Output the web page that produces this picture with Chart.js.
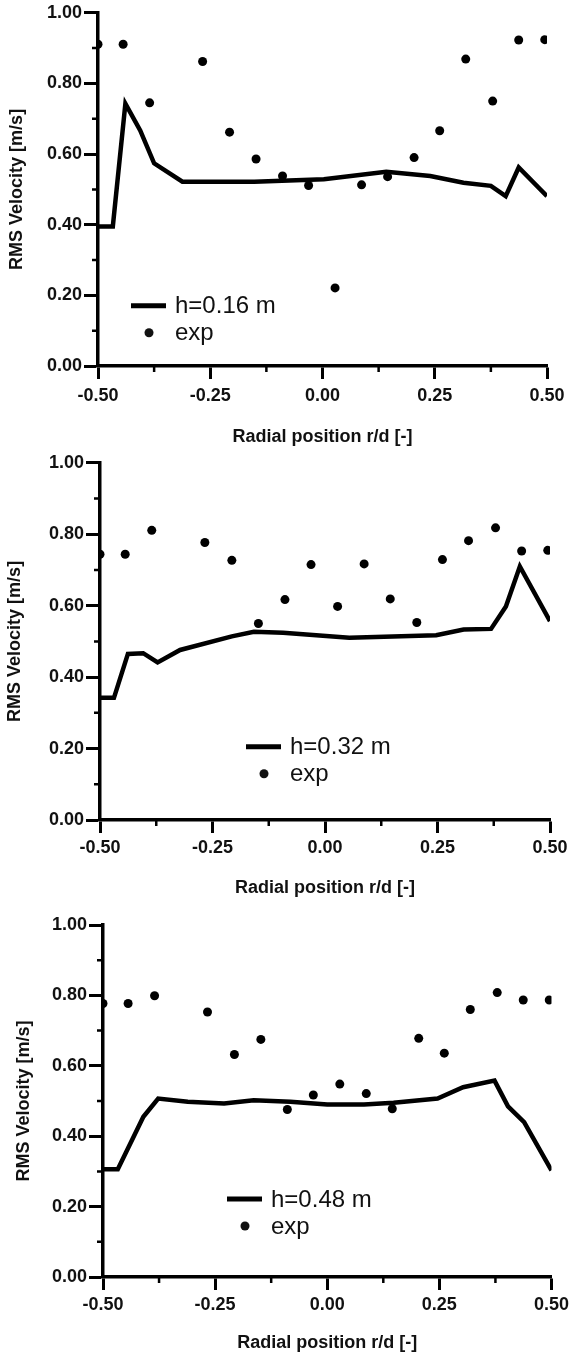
<!DOCTYPE html>
<html>
<head>
<meta charset="utf-8">
<script src="https://cdn.jsdelivr.net/npm/chart.js@4.4.1/dist/chart.umd.min.js"></script>
<style>
  body { margin: 0; background: #fff; }
  canvas { position: absolute; left: 0; }
</style>
</head>
<body>
<canvas id="panel1" width="573" height="450" style="top:0px"></canvas>
<canvas id="panel2" width="573" height="450" style="top:450px"></canvas>
<canvas id="panel3" width="573" height="452" style="top:900px"></canvas>
<script>
// ticks
const xTicksMinor = [-0.375, -0.125, 0.125, 0.375];
const yTicksMinor = [0.1, 0.3, 0.5, 0.7, 0.9];

// experiment positions (same in all three plots)
const expX = [-0.5, -0.444, -0.385, -0.267, -0.207, -0.148, -0.089, -0.031, 0.028, 0.087, 0.145, 0.204, 0.261, 0.319, 0.379, 0.437, 0.495];

// h = 0.16 m
const line1X = [-0.5, -0.467, -0.439, -0.406, -0.375, -0.312, -0.152, 0.003, 0.142, 0.24, 0.314, 0.375, 0.408, 0.437, 0.5];
const line1Y = [0.395, 0.395, 0.743, 0.667, 0.574, 0.522, 0.522, 0.529, 0.55, 0.538, 0.519, 0.51, 0.481, 0.562, 0.481];
const exp1Y = [0.911, 0.911, 0.745, 0.862, 0.662, 0.586, 0.538, 0.511, 0.221, 0.513, 0.536, 0.590, 0.666, 0.869, 0.750, 0.923, 0.924];

// h = 0.32 m
const line2X = [-0.5, -0.469, -0.438, -0.404, -0.372, -0.322, -0.207, -0.158, -0.093, 0.054, 0.247, 0.308, 0.369, 0.402, 0.433, 0.5];
const line2Y = [0.342, 0.342, 0.465, 0.467, 0.441, 0.476, 0.514, 0.527, 0.524, 0.51, 0.517, 0.533, 0.535, 0.598, 0.71, 0.557];
const exp2Y = [0.744, 0.744, 0.811, 0.777, 0.727, 0.55, 0.617, 0.715, 0.598, 0.717, 0.619, 0.553, 0.729, 0.782, 0.818, 0.753, 0.755];

// h = 0.48 m
const line3X = [-0.5, -0.467, -0.41, -0.377, -0.311, -0.23, -0.164, -0.082, 0, 0.082, 0.148, 0.246, 0.303, 0.373, 0.403, 0.439, 0.5];
const line3Y = [0.306, 0.306, 0.455, 0.507, 0.498, 0.493, 0.502, 0.498, 0.49, 0.49, 0.495, 0.507, 0.539, 0.558, 0.485, 0.44, 0.303];
const exp3Y = [0.777, 0.777, 0.799, 0.753, 0.632, 0.675, 0.476, 0.517, 0.548, 0.521, 0.478, 0.678, 0.636, 0.76, 0.808, 0.787, 0.787];

const FONT = '"Liberation Sans", Arial, Helvetica, sans-serif';

function toPoints(xs, ys) {
  return xs.map(function(x, i) { return { x: x, y: ys[i] }; });
}

// small ticks between the labelled ones
const minorTicks = {
  id: 'minorTicks',
  afterDraw: function(chart) {
    const ctx = chart.ctx;
    const x = chart.scales.x;
    const y = chart.scales.y;
    ctx.save();
    ctx.strokeStyle = '#000';
    ctx.lineWidth = 2.5;
    ctx.beginPath();
    yTicksMinor.forEach(function(v) {
      const py = y.getPixelForValue(v);
      ctx.moveTo(y.right - 6, py);
      ctx.lineTo(y.right, py);
    });
    xTicksMinor.forEach(function(v) {
      const px = x.getPixelForValue(v);
      ctx.moveTo(px, x.top);
      ctx.lineTo(px, x.top + 6);
    });
    ctx.stroke();
    ctx.restore();
  }
};

// legend inside the plot
const inlineLegend = {
  id: 'inlineLegend',
  afterDraw: function(chart, args, opts) {
    const ctx = chart.ctx;
    const a = chart.chartArea;
    const x0 = a.left + opts.x;
    const y0 = a.top + opts.y;
    ctx.save();
    ctx.font = '24px ' + FONT;
    ctx.fillStyle = '#111';
    ctx.textBaseline = 'middle';
    chart.data.datasets.forEach(function(ds, i) {
      const yy = y0 + i * 27;
      if (ds.showLine === false) {
        ctx.beginPath();
        ctx.arc(x0 + 18, yy, 4.5, 0, Math.PI * 2);
        ctx.fill();
      } else {
        ctx.beginPath();
        ctx.strokeStyle = '#000';
        ctx.lineWidth = 5;
        ctx.moveTo(x0, yy);
        ctx.lineTo(x0 + 35, yy);
        ctx.stroke();
      }
      ctx.fillText(ds.label, x0 + 44, yy + 1);
    });
    ctx.restore();
  }
};

function makeChart(id, label, lineX, lineY, expY, g) {
  const ctx = document.getElementById(id).getContext('2d');
  return new Chart(ctx, {
    type: 'line',
    data: {
      datasets: [{
        label: label,
        data: toPoints(lineX, lineY),
        borderColor: '#000',
        borderWidth: 4.5,
        pointRadius: 0,
        tension: 0
      }, {
        label: 'exp',
        data: toPoints(expX, expY),
        showLine: false,
        pointRadius: 4.5,
        pointBorderWidth: 0,
        backgroundColor: '#000',
        borderColor: '#000'
      }]
    },
    options: {
      responsive: false,
      animation: false,
      events: [],
      layout: { padding: { top: g.top, right: g.right, left: 0, bottom: 0 } },
      scales: {
        x: {
          type: 'linear',
          min: -0.5,
          max: 0.5,
          ticks: {
            stepSize: 0.25,
            padding: g.xPad,
            color: '#111',
            font: { family: FONT, size: 18, weight: 'bold' },
            maxRotation: 0,
            callback: function(v) { return v.toFixed(2); }
          },
          grid: { drawOnChartArea: false, tickLength: 13, tickWidth: 3, tickColor: '#000' },
          border: { color: '#000', width: 3.5 },
          title: {
            display: true,
            text: 'Radial position r/d [-]',
            color: '#111',
            font: { family: FONT, size: 18, weight: 'bold', lineHeight: 1 },
            padding: { top: 0, bottom: g.xTitlePad }
          },
          afterFit: function(scale) { scale.height = g.xHeight; }
        },
        y: {
          min: 0,
          max: 1,
          ticks: {
            stepSize: 0.2,
            padding: 2,
            color: '#111',
            font: { family: FONT, size: 18, weight: 'bold' },
            callback: function(v) { return v.toFixed(2); }
          },
          grid: { drawOnChartArea: false, tickLength: 14, tickWidth: 3, tickColor: '#000' },
          border: { color: '#000', width: 3.5 },
          title: {
            display: true,
            text: 'RMS Velocity [m/s]',
            color: '#111',
            font: { family: FONT, size: 18, weight: 'bold', lineHeight: 1 },
            padding: { top: g.yTitlePad, bottom: 0 }
          },
          afterFit: function(scale) { scale.width = g.left; }
        }
      },
      plugins: {
        legend: { display: false },
        tooltip: { enabled: false },
        inlineLegend: { x: g.legX, y: g.legY }
      }
    },
    plugins: [minorTicks, inlineLegend]
  });
}

makeChart('panel1', 'h=0.16 m', line1X, line1Y, exp1Y,
  { top: 12, right: 26, left: 98, xHeight: 84, xPad: 6, xTitlePad: 4, yTitlePad: 8, legX: 33, legY: 293 });
makeChart('panel2', 'h=0.32 m', line2X, line2Y, exp2Y,
  { top: 11, right: 23, left: 100, xHeight: 80, xPad: 4, xTitlePad: 3, yTitlePad: 6, legX: 146, legY: 284 });
makeChart('panel3', 'h=0.48 m', line3X, line3Y, exp3Y,
  { top: 25, right: 20, left: 103, xHeight: 75, xPad: 4, xTitlePad: 0, yTitlePad: 15, legX: 124, legY: 274 });
</script>
</body>
</html>
